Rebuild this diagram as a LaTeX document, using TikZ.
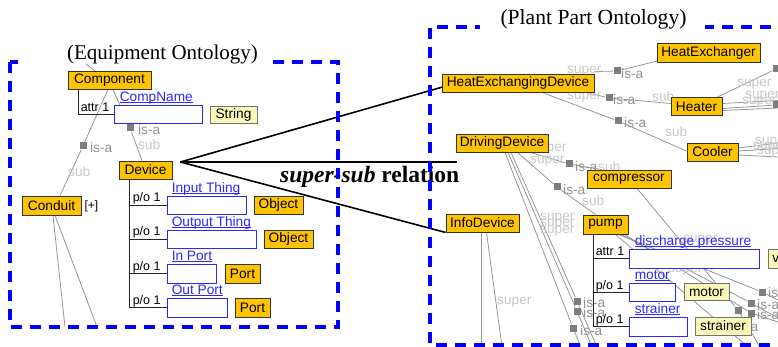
\documentclass[tikz,border=0pt]{standalone}
\usepackage{fontspec}
\setmainfont{Liberation Serif}
\newfontfamily\arialf{Liberation Sans}
\usetikzlibrary{calc}
\pgfdeclarelayer{bg}
\pgfsetlayers{bg,main}
\newcommand\myul[1]{\setbox0\hbox{#1}\rlap{\rule[-1.8pt]{\wd0}{0.7pt}}\box0}
\definecolor{orfill}{RGB}{255,196,0}
\definecolor{pyfill}{RGB}{250,248,182}
\definecolor{bluebox}{RGB}{40,40,255}
\definecolor{linkgray}{RGB}{150,150,150}
\definecolor{isagray}{RGB}{145,145,145}
\definecolor{subgray}{RGB}{200,200,200}
\definecolor{sqgray}{RGB}{125,125,125}
\definecolor{dashblue}{RGB}{0,0,255}
\tikzset{
 sm/.style={font=\arialf\fontsize{13.7}{15}\selectfont},
 obox/.style 2 args={sm, draw=black!80, fill=orfill, inner sep=0pt, line width=0.9pt, minimum width=#1pt, minimum height=#2pt},
 ybox/.style 2 args={sm, draw=black!55, fill=pyfill, inner sep=0pt, line width=0.9pt, minimum width=#1pt, minimum height=#2pt},
 bbox/.style 2 args={draw=bluebox, fill=white, inner sep=0pt, line width=0.9pt, minimum width=#1pt, minimum height=#2pt},
 blab/.style={sm, text=bluebox, inner sep=0pt, anchor=base west},
 tlab/.style={font=\arialf\fontsize{12.5}{14}\selectfont, inner sep=0pt, anchor=base west},
 plus/.style={font=\arialf\fontsize{12}{14}\selectfont, inner sep=0pt, anchor=west},
 isa/.style={sm, text=isagray, inner sep=0pt, anchor=west},
 sublab/.style={sm, text=subgray, inner sep=0pt, anchor=west},
 link/.style={draw=linkgray, line width=0.8pt},
 sq/.style={fill=sqgray, minimum size=7pt, inner sep=0pt},
 tree/.style={draw=black!85, line width=0.9pt},
 rel/.style={draw=black, line width=1.6pt},
 frame/.style={draw=dashblue, line width=3.5pt, dash pattern=on 11pt off 8pt},
 ttl/.style={font=\fontsize{21}{23}\selectfont, inner sep=0pt},
 reltxt/.style={font=\fontsize{23.5}{26}\selectfont\bfseries, inner sep=0pt, anchor=base west}
}
\begin{document}
\begin{tikzpicture}[x=1pt,y=-1pt]
\clip (0,0) rectangle (778,347);
% ---------- Equipment ontology ----------
\node[obox={83}{18}] (comp) at (109.5,80) {Component};
\node[bbox={88}{18}] (cnb) at (158,114) {};
\node[blab] (cnl) at ($(cnb.north west)+(6,-3.5)$) {\myul{CompName}};
\node[ybox={47}{17}] (strb) at (233.5,114.5) {String};
\node[obox={53}{18}] (dev) at (145.5,170) {Device};
\node[obox={59}{19}] (cond) at (51.5,205.5) {Conduit};
\node[plus] (condp) at ($(cond.east)+(3,0.5)$) {[+]};
\node[bbox={79}{18}] (ib1) at (206.5,205) {};
\node[obox={49}{18}] (ob1) at (278.5,205) {Object};
\node[bbox={89}{18}] (ib2) at (211.5,239) {};
\node[obox={49}{18}] (ob2) at (288.5,239) {Object};
\node[bbox={49}{19}] (ib3) at (191.5,273.5) {};
\node[obox={35}{19}] (ob3) at (242.5,273.5) {Port};
\node[bbox={60}{19}] (ib4) at (197,307.5) {};
\node[obox={35}{19}] (ob4) at (252.5,307.5) {Port};
\node[blab] (l1) at ($(ib1.north west)+(5,-3.5)$) {\myul{Input Thing}};
\node[blab] (l2) at ($(ib2.north west)+(5,-3.5)$) {\myul{Output Thing}};
\node[blab] (l3) at ($(ib3.north west)+(5,-3.5)$) {\myul{In Port}};
\node[blab] (l4) at ($(ib4.north west)+(5,-3.5)$) {\myul{Out Port}};
\coordinate (ctrunk) at ($(comp.south west)+(11,0)$);
\draw[tree] (ctrunk) |- (cnb.west);
\path (ctrunk |- cnb.west) ++(2,-2.5) node[tlab] {attr 1};
\coordinate (dtrunk) at ($(dev.south west)+(11,0)$);
\draw[tree] (dtrunk) -- (dtrunk |- ib4.west);
\foreach \b in {ib1,ib2,ib3,ib4}{
  \draw[tree] (dtrunk |- \b.west) -- (\b.west);
  \path (dtrunk |- \b.west) ++(3,-3) node[tlab] {p/o 1};
}
\node[sq] (sqa) at (83,146) {};
\node[sq] (sqb) at (130,128) {};
\coordinate (tl) at (78,58);
\coordinate (cb1) at (65,327);
\coordinate (cb2) at (97,327);
% ---------- Plant part ontology ----------
\node[obox={152}{18}] (hed) at (518,83) {HeatExchangingDevice};
\node[obox={103}{19}] (hx) at (708.5,52.5) {HeatExchanger};
\node[obox={51}{18}] (heater) at (696.5,106.5) {Heater};
\node[obox={51}{18}] (cooler) at (712.5,152) {Cooler};
\node[obox={92}{18}] (drv) at (502,143) {DrivingDevice};
\node[obox={84}{18}] (cmp) at (629,179) {compressor};
\node[obox={45}{19}] (pump) at (605.5,224.5) {pump};
\node[obox={73}{18}] (info) at (482.5,223) {InfoDevice};
\node[bbox={130}{19}] (dpb) at (694,258.5) {};
\node[ybox={36}{19}, anchor=west, text width=28pt, align=left, inner xsep=4pt] (vb) at (768,258.5) {v};
\node[bbox={46}{18}] (mb) at (652,292) {};
\node[ybox={45}{17}] (my) at (706.5,292) {motor};
\node[bbox={58}{19}] (sb) at (658,326.5) {};
\node[ybox={56}{18}] (sy) at (723,326) {strainer};
\node[blab] (l5) at ($(dpb.north west)+(6,-3.5)$) {\myul{discharge pressure}};
\node[blab] (l6) at ($(mb.north west)+(6,-3.5)$) {\myul{motor}};
\node[blab] (l7) at ($(sb.north west)+(6,-3.5)$) {\myul{strainer}};
\coordinate (ptrunk) at ($(pump.south west)+(11,0)$);
\draw[tree] (ptrunk) -- (ptrunk |- sb.west);
\draw[tree] (ptrunk |- dpb.west) -- (dpb.west);
\draw[tree] (ptrunk |- mb.west) -- (mb.west);
\draw[tree] (ptrunk |- sb.west) -- (sb.west);
\path (ptrunk |- dpb.west) ++(2,-3) node[tlab] {attr 1};
\path (ptrunk |- mb.west) ++(2,-3) node[tlab] {p/o 1};
\path (ptrunk |- sb.west) ++(2,-3) node[tlab] {p/o 1};
% squares
\node[sq] (r1) at (617,71) {};
\node[sq] (r2) at (609,98) {};
\node[sq] (r3) at (618,121) {};
\node[sq] (r4) at (776,69) {};
\node[sq] (r5) at (776,105) {};
\node[sq] (r6) at (569,164) {};
\node[sq] (r7) at (557,187) {};
\node[sq] (r8a) at (577,301) {};
\node[sq] (r8b) at (577,311) {};
\node[sq] (r8c) at (573,328) {};
\node[sq] (r10a) at (762,292) {};
\node[sq] (r10b) at (751,303) {};
\node[sq] (r10c) at (738,310) {};
\node[sq] (r10d) at (751,313) {};
% free ends
\coordinate (e1) at (778,100.5);
\coordinate (e2) at (778,108);
\coordinate (e3) at (778,143);
\coordinate (e4) at (778,148.5);
\coordinate (e5) at (778,157);
\coordinate (e6) at (581,347);
\coordinate (e7) at (592,347);
\coordinate (e8) at (597,347);
\coordinate (e9) at (481.5,347);
\coordinate (e10) at (502,347);
\coordinate (e11) at (778,300);
\coordinate (e12) at (778,318);
\coordinate (e13) at (778,322);
\coordinate (e14) at (760,347);
\coordinate (e15) at (748,347);
\begin{pgfonlayer}{bg}
\draw[link] (tl) -- ($(comp.north)+(-15,0)$);
\draw[link] ($(comp.south)+(-1.5,0)$) -- (sqa) -- ($(cond.north)+(8.5,0)$);
\draw[link] ($(comp.south)+(3.5,0)$) -- (sqb) -- ($(dev.north)+(-3.5,0)$);
\draw[link] ($(cond.south)+(1.5,0)$) -- (cb1);
\draw[link] ($(cond.south)+(3.5,0)$) -- (cb2);
\node[isa] at (90,147.5) {is-a};
\node[sublab] at (68,172) {sub};
\node[isa] at (138,129.5) {is-a};
\node[sublab] at (138,145) {sub};
% right links
\draw[link] ($(hed.north east)+(0,-2)$) -- (r1) -- ($(hx.south west)+(3,-2)$);
\draw[link] ($(hed.south east)+(-8,0)$) -- (r2) -- ($(heater.west)+(0,-3)$);
\draw[link] ($(hed.south)+(24,0)$) -- (r3) -- ($(cooler.west)+(0,-1)$);
\draw[link] ($(heater.north east)+(-5,0)$) -- (r4);
\draw[link] ($(heater.east)+(0,-3)$) -- (e1);
\draw[link] ($(heater.east)+(0,2)$) -- (r5);
\draw[link] ($(heater.east)+(0,4)$) -- (e2);
\draw[link] ($(cooler.east)+(0,-4)$) -- (e3);
\draw[link] ($(cooler.east)+(0,-1)$) -- (e4);
\draw[link] ($(cooler.east)+(0,3)$) -- (e5);
\draw[link] ($(drv.south east)+(-18,0)$) -- (r6) -- ($(cmp.north west)+(15,0)$);
\draw[link] ($(drv.south east)+(-31,0)$) -- (r7) -- ($(pump.north)+(-10,0)$);
\draw[link] ($(drv.south)+(3,0)$) -- (r8c) -- (e6);
\draw[link] ($(drv.south)+(6,0)$) -- (r8b) -- (e7);
\draw[link] ($(drv.south)+(9,0)$) -- (r8a) -- (e8);
\draw[link] ($(info.south)+(-1,0)$) -- (e9);
\draw[link] ($(info.south)+(4,0)$) -- (e10);
\draw[link] ($(pump.south east)+(-10,0)$) -- (r10a) -- (e11);
\draw[link] ($(pump.south east)+(-7,0)$) -- (r10b) -- (e12);
\draw[link] ($(pump.south east)+(-4,0)$) -- (r10d) -- (e13);
\draw[link] ($(cmp.south)+(8,0)$) -- (r10c) -- (e14);
\draw[link] ($(pump.south east)+(-13,0)$) -- (e15);
\node[sublab] at (567,71) {super};
\node[isa] at (621,73.5) {is-a};
\node[sublab] at (567,97.5) {super};
\node[isa] at (613,100) {is-a};
\node[sublab] at (652,97) {sub};
\node[isa] at (624,122.5) {is-a};
\node[sublab] at (665,132) {sub};
\node[sublab] at (737,84.5) {super};
\node[sublab] at (745,96.5) {super};
\node[sublab] at (742,102) {super};
\node[sublab] at (755,142) {super};
\node[sublab] at (753,147) {super};
\node[sublab] at (757,152.5) {super};
\node[sublab] at (532,149) {super};
\node[sublab] at (530,161) {super};
\node[isa] at (575,166.5) {is-a};
\node[sublab] at (598,166.5) {sub};
\node[isa] at (563,190) {is-a};
\node[sublab] at (582,201) {sub};
\node[sublab] at (540,218) {super};
\node[sublab] at (540,224) {super};
\node[sublab] at (540,231) {super};
\node[isa] at (583,302.5) {is-a};
\node[isa] at (583,312.5) {is-a};
\node[isa] at (580,331) {is-a};
\node[sublab] at (497,302) {super};
\node[sublab] at (683,240) {super};
\node[sublab] at (668,270) {super};
\node[isa] at (768,293) {is-a};
\node[isa] at (757,304.5) {is-a};
\node[isa] at (757,314.5) {is-a};
\node[isa] at (736,326.5) {is-a};
\end{pgfonlayer}
% ---------- super-sub relation ----------
\coordinate (apex) at ($(dev.east)+(8,-8)$);
\coordinate (relend) at (457,162);
\draw[rel] (apex) -- ($(hed.west)+(1,4)$);
\draw[rel] (apex) -- (relend);
\draw[rel] (apex) -- (info.south west);
\node[reltxt] (rt) at (280,183) {\textit{super-sub} relation};
% ---------- frames and titles ----------
\draw[frame] (10,62) rectangle (338,327);
\draw[frame] (790,27) -| (430,345) -- (790,345);
\fill[white] (22,42) rectangle (272,64.5);
\node[ttl] (eqt) at (162.5,54) {(Equipment Ontology)};
\fill[white] (480,5) rectangle (705,30);
\node[ttl, font=\fontsize{21.6}{24}\selectfont] (ppt) at (593.5,19.5) {(Plant Part Ontology)};
\end{tikzpicture}
\end{document}
